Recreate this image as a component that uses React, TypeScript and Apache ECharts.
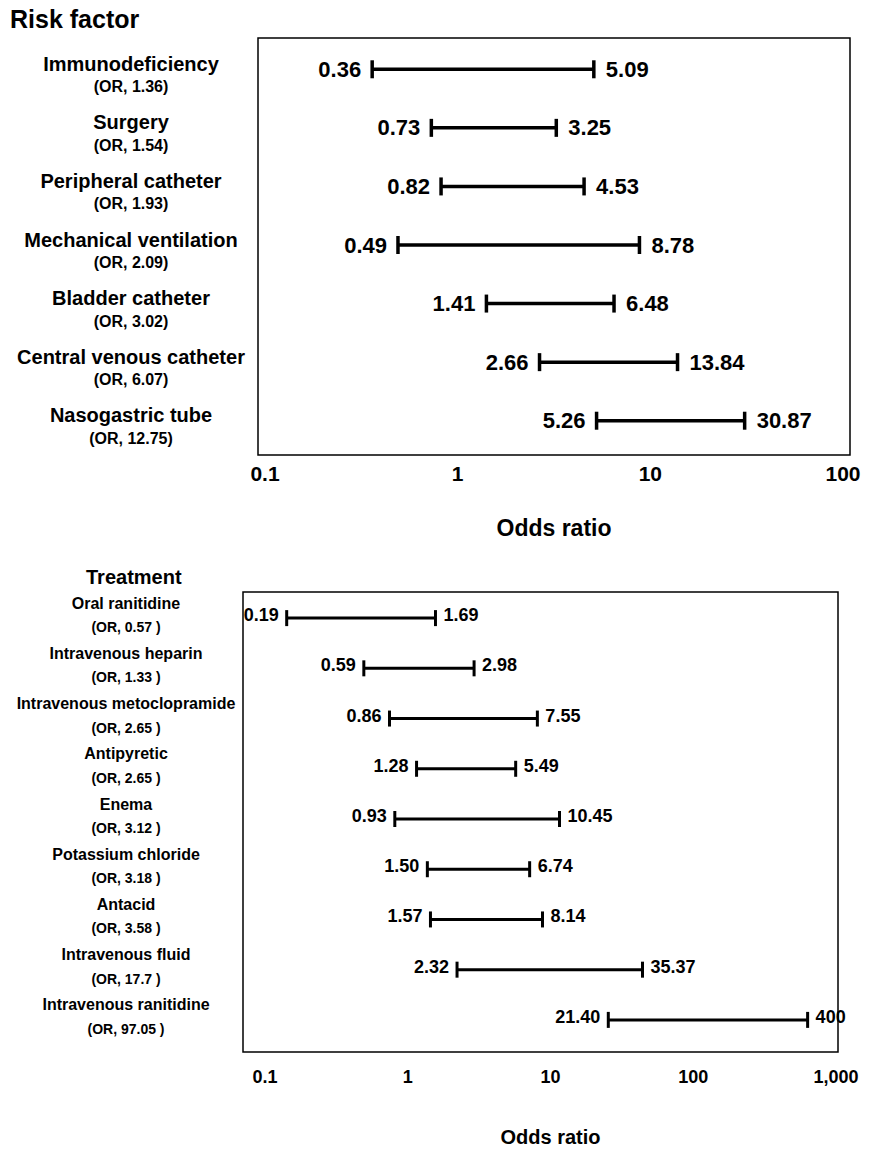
import React, { useEffect, useRef } from "react";
import * as echarts from "echarts";

const FONT = '"Liberation Sans", Arial, Helvetica, sans-serif';

// ---- Risk factor panel ----
const riskNames = [
  "Immunodeficiency",
  "Surgery",
  "Peripheral catheter",
  "Mechanical ventilation",
  "Bladder catheter",
  "Central venous catheter",
  "Nasogastric tube",
];
const riskOR = ["1.36", "1.54", "1.93", "2.09", "3.02", "6.07", "12.75"];
const riskLower = [0.36, 0.73, 0.82, 0.49, 1.41, 2.66, 5.26];
const riskUpper = [5.09, 3.25, 4.53, 8.78, 6.48, 13.84, 30.87];

// ---- Treatment panel ----
const treatNames = [
  "Oral ranitidine",
  "Intravenous heparin",
  "Intravenous metoclopramide",
  "Antipyretic",
  "Enema",
  "Potassium chloride",
  "Antacid",
  "Intravenous fluid",
  "Intravenous ranitidine",
];
const treatOR = ["0.57", "1.33", "2.65", "2.65", "3.12", "3.18", "3.58", "17.7", "97.05"];
const treatLower = [0.19, 0.59, 0.86, 1.28, 0.93, 1.5, 1.57, 2.32, 21.4];
const treatUpper = [1.69, 2.98, 7.55, 5.49, 10.45, 6.74, 8.14, 35.37, 400];

const fmtCI = (n: number) => (n >= 100 && Number.isInteger(n) ? String(n) : n.toFixed(2));
const fmtTick = (v: number) => {
  const n = Number(v.toPrecision(3));
  return n >= 1000 ? n.toLocaleString("en-US") : String(n);
};

function makeErrorSeries(
  xAxisIndex: number,
  yAxisIndex: number,
  lower: number[],
  upper: number[],
  opts: { lw: number; cap: number; fs: number; gapL: number; gapR: number; dy: number }
) {
  return {
    type: "custom",
    xAxisIndex,
    yAxisIndex,
    clip: false,
    encode: { x: [1, 2], y: 0 },
    data: lower.map((lo, i) => [i, lo, upper[i]]),
    renderItem: (params: any, api: any) => {
      const idx = api.value(0);
      const lo = api.value(1);
      const hi = api.value(2);
      const p1 = api.coord([lo, idx]);
      const p2 = api.coord([hi, idx]);
      const st = { stroke: "#000", lineWidth: opts.lw };
      const h = opts.cap / 2;
      const font = `bold ${opts.fs}px ${FONT}`;
      return {
        type: "group",
        children: [
          { type: "line", shape: { x1: p1[0], y1: p1[1], x2: p2[0], y2: p2[1] }, style: st },
          { type: "line", shape: { x1: p1[0], y1: p1[1] - h, x2: p1[0], y2: p1[1] + h }, style: st },
          { type: "line", shape: { x1: p2[0], y1: p2[1] - h, x2: p2[0], y2: p2[1] + h }, style: st },
          {
            type: "text",
            x: p1[0] - opts.gapL,
            y: p1[1] + opts.dy,
            style: { text: fmtCI(lo), font, fill: "#000", align: "right", verticalAlign: "middle" },
          },
          {
            type: "text",
            x: p2[0] + opts.gapR,
            y: p2[1] + opts.dy,
            style: { text: fmtCI(hi), font, fill: "#000", align: "left", verticalAlign: "middle" },
          },
        ],
      };
    },
  };
}

export default function App() {
  const ref = useRef<HTMLDivElement>(null);

  useEffect(() => {
    document.body.style.margin = "0";
    if (!ref.current) return;
    const chart = echarts.init(ref.current, undefined, { renderer: "svg" });

    const hidden = {
      axisLine: { show: false },
      axisTick: { show: false },
      splitLine: { show: false },
    };

    const option: any = {
      animation: false,
      backgroundColor: "#fff",
      textStyle: { fontFamily: FONT },
      grid: [
        { left: 265, width: 578, top: 40, height: 410 },
        { left: 243, width: 632, top: 593, height: 452 },
        { left: 265, width: 571, top: 593, height: 452 },
      ],
      xAxis: [
        {
          gridIndex: 0,
          type: "log",
          logBase: 10,
          min: 0.1,
          max: 100,
          ...hidden,
          axisLabel: {
            formatter: fmtTick,
            fontSize: 21,
            fontWeight: "bold",
            color: "#000",
            fontFamily: FONT,
            margin: 13,
          },
          name: "Odds ratio",
          nameLocation: "middle",
          nameGap: 66,
          nameTextStyle: { fontSize: 23, fontWeight: "bold", color: "#000", fontFamily: FONT, verticalAlign: "top" },
        },
        {
          gridIndex: 1,
          type: "log",
          logBase: 10,
          min: 0.1,
          max: 1000,
          ...hidden,
          axisLabel: { show: false },
        },
        {
          gridIndex: 2,
          type: "log",
          logBase: 10,
          min: 0.1,
          max: 1000,
          ...hidden,
          axisLabel: {
            formatter: fmtTick,
            fontSize: 18,
            fontWeight: "bold",
            color: "#000",
            fontFamily: FONT,
            margin: 23,
          },
          name: "Odds ratio",
          nameLocation: "middle",
          nameGap: 82,
          nameTextStyle: { fontSize: 20, fontWeight: "bold", color: "#000", fontFamily: FONT, verticalAlign: "top" },
        },
      ],
      yAxis: [
        {
          gridIndex: 0,
          type: "category",
          inverse: true,
          data: riskNames,
          ...hidden,
          axisLabel: {
            align: "center",
            margin: 134,
            padding: [12, 0, 0, 0],
            formatter: (_v: string, i: number) => `{n|${riskNames[i]}}\n{o|(OR, ${riskOR[i]})}`,
            rich: {
              n: { fontSize: 20, fontWeight: "bold", color: "#000", lineHeight: 23, fontFamily: FONT },
              o: { fontSize: 16, fontWeight: "bold", color: "#000", lineHeight: 23, fontFamily: FONT },
            },
          },
        },
        {
          gridIndex: 1,
          type: "category",
          inverse: true,
          data: treatNames,
          ...hidden,
          axisLabel: {
            align: "center",
            margin: 117,
            padding: [0, 0, 6, 0],
            formatter: (_v: string, i: number) => `{n|${treatNames[i]}}\n{o|(OR, ${treatOR[i]} )}`,
            rich: {
              n: { fontSize: 16, fontWeight: "bold", color: "#000", lineHeight: 24, fontFamily: FONT },
              o: { fontSize: 14, fontWeight: "bold", color: "#000", lineHeight: 24, fontFamily: FONT },
            },
          },
        },
        {
          gridIndex: 2,
          type: "category",
          inverse: true,
          data: treatNames,
          show: false,
        },
      ],
      graphic: [
        {
          type: "rect",
          shape: { x: 258, y: 38, width: 592, height: 417 },
          style: { fill: "none", stroke: "#000", lineWidth: 1.5 },
          silent: true,
        },
        {
          type: "rect",
          shape: { x: 243, y: 592, width: 595, height: 460 },
          style: { fill: "none", stroke: "#000", lineWidth: 1.5 },
          silent: true,
        },
        {
          type: "text",
          x: 10,
          y: 19,
          style: { text: "Risk factor", font: `bold 25px ${FONT}`, fill: "#000", verticalAlign: "middle" },
        },
        {
          type: "text",
          x: 86,
          y: 577,
          style: { text: "Treatment", font: `bold 20px ${FONT}`, fill: "#000", verticalAlign: "middle" },
        },
      ],
      series: [
        makeErrorSeries(0, 0, riskLower, riskUpper, { lw: 3.5, cap: 18, fs: 22, gapL: 11, gapR: 12, dy: 0 }),
        makeErrorSeries(1, 1, treatLower, treatUpper, { lw: 3, cap: 16, fs: 18, gapL: 8, gapR: 8, dy: -3 }),
      ],
    };

    chart.setOption(option);
    return () => chart.dispose();
  }, []);

  return <div ref={ref} style={{ width: 870, height: 1157 }} />;
}
